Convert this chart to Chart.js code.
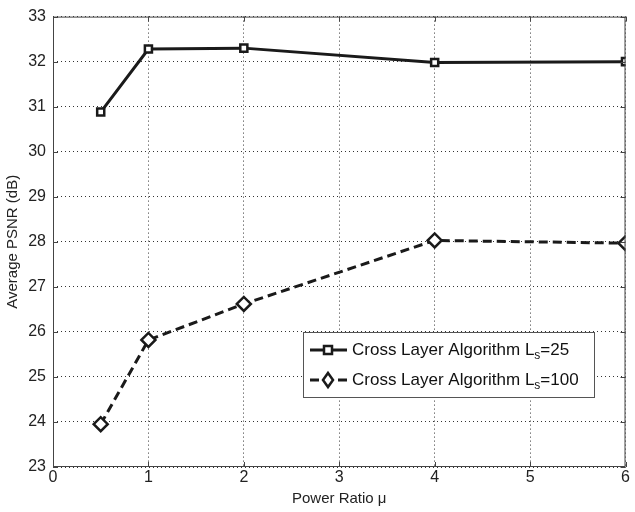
<!DOCTYPE html>
<html>
<head>
<meta charset="utf-8">
<script src="https://cdn.jsdelivr.net/npm/chart.js@4/dist/chart.umd.min.js"></script>
<style>
  html, body { margin: 0; padding: 0; background: #fff; }
  #wrap { width: 635px; height: 512px; position: relative; }
</style>
</head>
<body>
<div id="wrap"><canvas id="myChart" width="635" height="512"></canvas></div>
<script>
// Data
const powerRatio = [0.5, 1, 2, 4, 6];
const psnrLs25 = [30.88, 32.28, 32.30, 31.98, 32.00];
const psnrLs100 = [23.95, 25.82, 26.62, 28.03, 27.97];
const seriesNames = ["Cross Layer Algorithm L", "Cross Layer Algorithm L"];
const seriesSubs = ["s", "s"];
const seriesTails = ["=25", "=100"];

const FONT = "'Liberation Sans', Arial, sans-serif";

function toPoints(xs, ys) {
    return xs.map((x, i) => ({ x: x, y: ys[i] }));
}

// MATLAB style box, inward ticks and the legend inside the axes
const boxPlugin = {
    id: "boxPlugin",
    afterDatasetsDraw(chart) {
        const ctx = chart.ctx;
        const a = chart.chartArea;
        const xs = chart.scales.x, ys = chart.scales.y;
        ctx.save();
        ctx.strokeStyle = "#444";
        ctx.lineWidth = 1;
        ctx.strokeRect(a.left + 0.5, a.top + 0.5, a.right - a.left - 1, a.bottom - a.top - 1);
        ctx.beginPath();
        for (let v = 0; v <= 6; v++) {
            const px = Math.round(xs.getPixelForValue(v)) + 0.5;
            ctx.moveTo(px, a.bottom); ctx.lineTo(px, a.bottom - 5);
            ctx.moveTo(px, a.top); ctx.lineTo(px, a.top + 5);
        }
        for (let v = 23; v <= 33; v++) {
            const py = Math.round(ys.getPixelForValue(v)) + 0.5;
            ctx.moveTo(a.left, py); ctx.lineTo(a.left + 5, py);
            ctx.moveTo(a.right, py); ctx.lineTo(a.right - 5, py);
        }
        ctx.stroke();

        // legend
        const bx = 303, by = 332, bw = 291, bh = 65;
        ctx.fillStyle = "#fff";
        ctx.fillRect(bx, by, bw, bh);
        ctx.strokeStyle = "#555";
        ctx.strokeRect(bx + 0.5, by + 0.5, bw, bh);
        chart.data.datasets.forEach((ds, i) => {
            const ry = by + 18 + i * 30;
            ctx.strokeStyle = "#1a1a1a";
            ctx.lineWidth = 3;
            ctx.setLineDash(ds.borderDash || []);
            ctx.beginPath();
            ctx.moveTo(310, ry); ctx.lineTo(347, ry);
            ctx.stroke();
            ctx.setLineDash([]);
            ctx.lineWidth = 2.5;
            ctx.fillStyle = "#fff";
            ctx.beginPath();
            if (ds.pointStyle === "rectRot") {
                ctx.moveTo(328, ry - 7); ctx.lineTo(333, ry); ctx.lineTo(328, ry + 7); ctx.lineTo(323, ry);
                ctx.closePath();
            } else {
                ctx.rect(324, ry - 4, 8, 8);
            }
            ctx.fill(); ctx.stroke();
            ctx.fillStyle = "#111";
            ctx.textBaseline = "middle";
            ctx.font = "17px " + FONT;
            ctx.fillText(seriesNames[i], 352, ry);
            let w = ctx.measureText(seriesNames[i]).width;
            ctx.font = "12px " + FONT;
            ctx.fillText(seriesSubs[i], 352 + w, ry + 6);
            const w2 = ctx.measureText(seriesSubs[i]).width;
            ctx.font = "17px " + FONT;
            ctx.fillText(seriesTails[i], 352 + w + w2, ry);
        });
        ctx.restore();
    }
};

window.onload = () => {
    const ctx = document.getElementById("myChart");
    new Chart(ctx, {
        type: "line",
        data: {
            datasets: [{
                label: "Cross Layer Algorithm Ls=25",
                data: toPoints(powerRatio, psnrLs25),
                borderColor: "#1a1a1a",
                borderWidth: 3,
                pointStyle: "rect",
                pointRadius: 5,
                pointBorderWidth: 2.5,
                pointBackgroundColor: "#fff",
                pointBorderColor: "#1a1a1a",
                tension: 0
            }, {
                label: "Cross Layer Algorithm Ls=100",
                data: toPoints(powerRatio, psnrLs100),
                borderColor: "#1a1a1a",
                borderWidth: 3,
                borderDash: [9, 5],
                pointStyle: "rectRot",
                pointRadius: 7,
                pointBorderWidth: 2.5,
                pointBackgroundColor: "#fff",
                pointBorderColor: "#1a1a1a",
                tension: 0
            }]
        },
        options: {
            responsive: false,
            animation: false,
            layout: { padding: { top: 15, right: 4, left: 0, bottom: 0 } },
            plugins: {
                legend: { display: false },
                tooltip: { enabled: false }
            },
            scales: {
                x: {
                    type: "linear",
                    min: 0, max: 6,
                    afterFit(s) { s.height = 45; },
                    ticks: { stepSize: 1, color: "#222", font: { family: FONT, size: 16 }, padding: 1 },
                    grid: { color: "#333", lineWidth: 1, drawTicks: false },
                    border: { display: false, dash: [1, 3] },
                    title: { display: true, text: "Power Ratio \u03bc", color: "#222", font: { family: FONT, size: 15 }, padding: { top: 3 } }
                },
                y: {
                    min: 23, max: 33,
                    afterFit(s) { s.width = 53; },
                    ticks: { stepSize: 1, color: "#222", font: { family: FONT, size: 16 }, padding: 7 },
                    grid: { color: "#333", lineWidth: 1, drawTicks: false },
                    border: { display: false, dash: [1, 3] },
                    title: { display: true, text: "Average PSNR (dB)", color: "#222", font: { family: FONT, size: 15 }, padding: { bottom: 0 } }
                }
            }
        },
        plugins: [boxPlugin]
    });
};
</script>
</body>
</html>
